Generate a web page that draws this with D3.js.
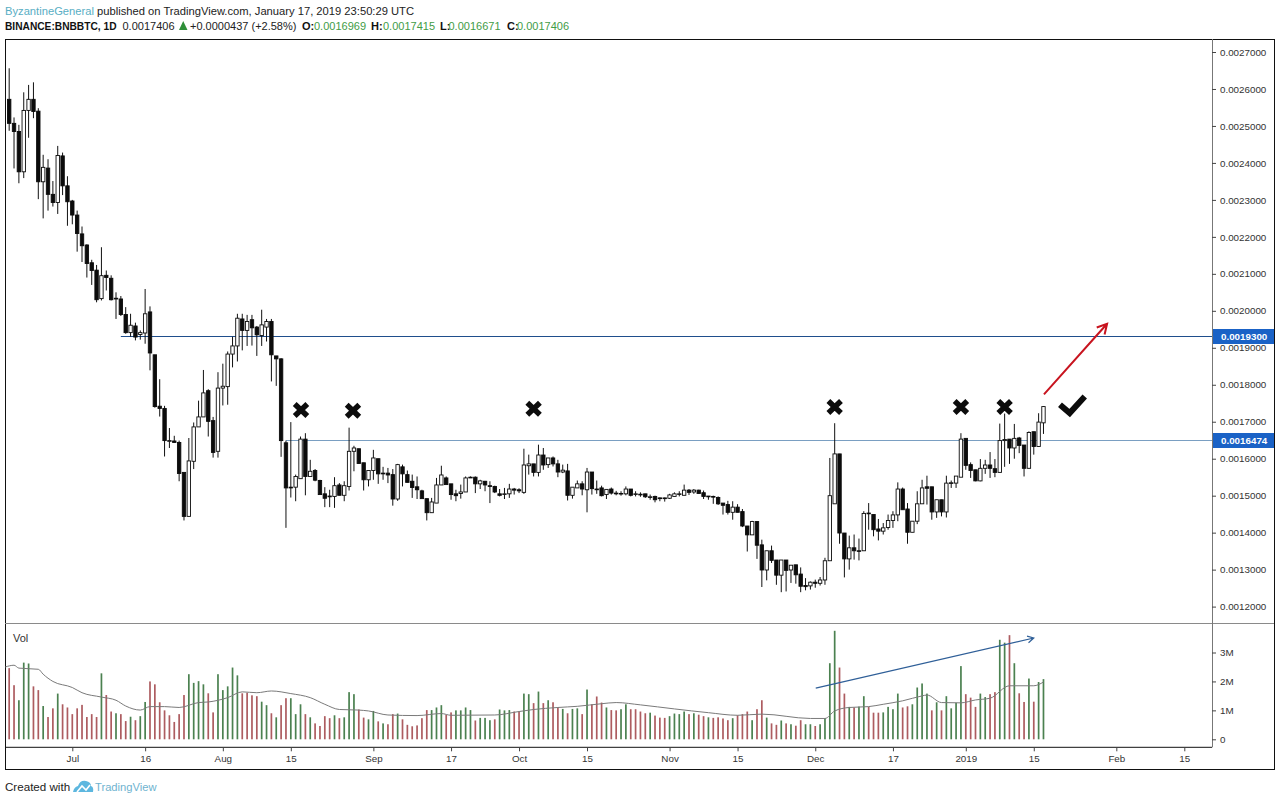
<!DOCTYPE html>
<html>
<head>
<meta charset="utf-8">
<title>BNBBTC</title>
<script src="https://cdn.jsdelivr.net/npm/d3@7"></script>
<style>
  html, body { margin: 0; padding: 0; background: #fff; }
  svg { display: block; }
  text { font-family: "Liberation Sans", Arial, sans-serif; }
</style>
</head>
<body>
<svg id="chart" width="1280" height="802"></svg>
<script>
// prices are in millionths of a BTC, one value per day from 2018-06-18
const highs = [
  2656,2523,2503,2591,2611,2618,2548,2422,2410,2351, 2446,2428,2364,2300,2271,2228,2180,2138,2124,2172,
  2109,2096,2050,2040,2010,1992,1968,1947,2059,2012, 1881,1815,1743,1683,1662,1649,1563,1656,1698,1757,
  1840,1788,1713,1834,1857,1890,1930,1992,1992,1989, 1989,1959,2003,1978,1978,1878,1872,1649,1699,1557,
  1660,1669,1597,1572,1543,1523,1516,1550,1534,1539, 1684,1635,1627,1589,1568,1624,1600,1578,1575,1572,
  1586,1584,1568,1557,1552,1516,1492,1494,1548,1581, 1552,1532,1516,1530,1552,1552,1552,1543,1540,1539,
  1527,1518,1521,1532,1521,1520,1627,1611,1586,1638, 1629,1602,1606,1597,1584,1586,1523,1541,1539,1575,
  1564,1541,1527,1517,1522,1513,1512,1525,1518,1512, 1509,1505,1503,1500,1495,1495,1505,1509,1512,1530,
  1518,1518,1516,1514,1499,1500,1498,1480,1486,1485, 1477,1464,1418,1432,1431,1381,1351,1365,1326,1326,
  1326,1312,1313,1306,1277,1268,1273,1280,1332,1602, 1696,1613,1399,1392,1395,1384,1458,1480,1449,1437,
  1426,1449,1458,1536,1522,1480,1431,1512,1543,1554, 1524,1489,1489,1554,1541,1553,1669,1655,1590,1570,
  1599,1597,1618,1599,1695,1722,1653,1694,1659,1637, 1674,1673,1723,1742
];
const lows = [
  2487,2385,2345,2359,2468,2521,2302,2250,2271,2282, 2262,2313,2230,2234,2160,2132,2090,2070,2023,2028,
  2055,2028,1978,1986,1938,1930,1920,1922,1911,1839, 1738,1714,1606,1629,1644,1539,1433,1444,1572,1686,
  1713,1660,1603,1603,1744,1746,1847,1863,1893,1905, 1906,1878,1905,1917,1809,1797,1605,1413,1495,1485,
  1546,1501,1552,1539,1503,1469,1469,1467,1501,1485, 1514,1566,1587,1514,1525,1543,1532,1543,1534,1473,
  1486,1525,1536,1494,1491,1492,1433,1454,1480,1529, 1530,1489,1485,1492,1510,1548,1507,1518,1512,1480,
  1507,1498,1491,1494,1503,1507,1505,1557,1552,1552, 1570,1575,1579,1550,1561,1487,1492,1521,1501,1455,
  1503,1505,1498,1491,1503,1501,1500,1501,1498,1498, 1497,1494,1489,1482,1485,1484,1491,1498,1498,1501,
  1502,1505,1506,1491,1489,1478,1475,1449,1449,1435, 1455,1415,1349,1394,1329,1253,1271,1318,1259,1239,
  1241,1264,1262,1239,1244,1246,1251,1257,1259,1324, 1478,1370,1279,1300,1327,1325,1351,1408,1390,1379,
  1395,1408,1413,1431,1462,1370,1401,1423,1478,1476, 1435,1440,1444,1441,1521,1521,1550,1570,1548,1539,
  1539,1559,1548,1550,1563,1578,1586,1600,1615,1552, 1574,1611,1632,1667
];
const opens = [
  2572,2507,2485,2376,2542,2572,2540,2349,2386,2315, 2293,2419,2338,2297,2259,2208,2178,2130,2110,2033,
  2096,2088,2034,2032,1990,1941,1959,1936,1940,1997, 1881,1742,1736,1647,1648,1644,1563,1444,1593,1686,
  1713,1784,1703,1620,1791,1795,1883,1905,1978,1947, 1976,1956,1933,1956,1971,1878,1870,1643,1521,1523,
  1546,1653,1552,1568,1541,1505,1497,1498,1529,1501, 1525,1620,1627,1589,1543,1568,1600,1561,1561,1557,
  1491,1578,1557,1539,1524,1513,1492,1454,1480,1529, 1548,1532,1505,1506,1510,1550,1550,1532,1539,1527,
  1525,1505,1504,1505,1518,1516,1509,1581,1586,1563, 1610,1584,1602,1586,1564,1567,1501,1521,1532,1516,
  1564,1516,1521,1503,1518,1507,1505,1505,1518,1504, 1504,1505,1495,1498,1494,1492,1493,1498,1504,1501,
  1515,1510,1515,1508,1499,1498,1495,1480,1476,1455, 1469,1457,1418,1394,1430,1367,1299,1351,1326,1285,
  1326,1299,1313,1288,1257,1256,1266,1263,1272,1324, 1478,1613,1399,1329,1359,1351,1351,1453,1449,1410,
  1404,1414,1433,1448,1518,1464,1401,1431,1478,1524, 1524,1456,1489,1456,1533,1534,1550,1655,1584,1570,
  1540,1574,1583,1573,1563,1649,1653,1629,1656,1637, 1574,1673,1633,1697
];
const closes = [
  2507,2485,2376,2542,2572,2539,2349,2388,2315,2293, 2420,2338,2295,2259,2209,2176,2128,2109,2030,2095,
  2090,2030,2032,1990,1941,1961,1929,1941,1992,1886, 1741,1736,1649,1649,1644,1560,1444,1594,1686,1713,
  1778,1701,1617,1791,1796,1883,1905,1980,1947,1971, 1954,1935,1962,1971,1881,1870,1649,1521,1523,1552,
  1653,1552,1566,1542,1503,1493,1499,1527,1501,1527, 1620,1629,1587,1543,1568,1602,1559,1559,1556,1491,
  1584,1559,1536,1522,1516,1492,1454,1483,1529,1556, 1530,1503,1500,1510,1548,1548,1532,1540,1529,1525,
  1510,1501,1505,1518,1515,1513,1583,1586,1563,1610, 1583,1602,1586,1564,1569,1501,1523,1532,1518,1564,
  1519,1518,1500,1517,1507,1505,1506,1518,1501,1505, 1502,1497,1497,1489,1492,1494,1502,1505,1505,1515,
  1509,1515,1506,1498,1497,1496,1478,1474,1455,1469, 1455,1418,1394,1430,1366,1299,1351,1325,1285,1326,
  1298,1312,1286,1255,1254,1266,1263,1272,1324,1500, 1613,1399,1329,1359,1351,1350,1452,1451,1408,1404,
  1413,1433,1448,1518,1462,1401,1431,1478,1521,1520, 1456,1489,1456,1534,1535,1553,1653,1582,1568,1540,
  1574,1583,1574,1563,1649,1652,1629,1655,1636,1574, 1671,1633,1699,1741
];

// volume in millions
const volumes = [
  2.46,1.87,1.35,2.65,2.62,1.83,1.70,1.15,0.77,1.07, 1.58,1.21,1.10,0.87,1.07,1.19,0.77,0.87,0.77,2.28,
  1.53,0.96,0.90,0.87,0.63,0.78,0.66,0.80,1.29,2.00, 1.90,1.28,1.00,0.83,0.60,0.87,1.53,2.25,1.95,2.01,
  1.90,1.59,0.93,2.25,1.70,1.83,2.48,2.21,1.59,1.61, 1.52,1.49,1.30,1.18,0.90,0.76,1.18,1.42,1.42,0.87,
  1.21,0.87,0.76,0.55,0.46,0.80,0.73,0.83,0.73,0.76, 1.63,1.56,1.03,0.75,0.69,0.98,0.62,0.55,0.52,0.87,
  0.89,0.69,0.50,0.45,0.48,0.73,1.01,1.01,1.10,1.18, 0.84,0.93,1.00,1.00,1.10,1.01,0.65,0.74,0.74,0.66,
  0.69,1.03,1.00,1.01,0.96,0.96,1.58,1.56,1.25,1.65, 1.25,1.35,1.28,1.10,1.05,0.90,1.05,1.07,0.87,1.72,
  1.21,1.48,1.27,1.10,1.01,1.00,1.04,1.21,1.04,1.04, 0.96,0.90,0.92,0.82,0.75,0.74,0.80,0.89,0.87,0.96,
  0.87,0.90,0.85,0.80,0.76,0.74,0.76,0.72,0.66,0.73, 0.83,0.87,0.96,0.66,1.04,1.35,0.75,0.55,0.50,0.65,
  0.55,0.52,0.47,0.66,0.52,0.52,0.46,0.52,0.73,2.63, 3.75,2.48,1.58,1.12,1.10,1.13,1.49,1.12,0.92,0.92,
  0.93,1.12,1.04,1.58,1.10,1.14,1.21,1.79,1.93,1.58, 1.00,1.28,1.00,1.49,1.07,1.26,2.53,1.56,1.44,1.12,
  1.58,1.46,1.56,1.63,3.44,3.34,3.60,2.63,1.59,1.29, 2.10,1.30,1.98,2.08
];
const volumeDirs = (
  "RRGGGRRGRR" + "GRRRRRRRRG" + "RRGRRGRGGR" + "RRRRRRRGGG" + "GRRGGGGGRR" +
  "RRGGRGRRGG" + "GRGRRRRGRG" + "GGRRGGRGRR" + "GRRRRRRGGG" + "RRGGGGRGGG" +
  "RGGGRRGGRG" + "RGRRGRGGRG" + "RRRGRRGGRR" + "RRGRRRGGGG" + "RGRRGRRRRG" +
  "RRRGRRGRRG" + "RGRRGGRGGG" + "GRRGRGGRRR" + "GGGGRRGGGG" + "RGRGGGGRRR" +
  "GGRRGGRGRR" + "GRGG"
).split("");

// volume average at its bends
const maDays = [-0.8,1,2,6,7,9,13,15,19,22,24,27,29,32,35,39,41,45,48,51,54,58,62,65,68,72,74,78,84,89,91,100,105,108,113,117,122,125,130,137,144,150,155,165,168,170,173,177,180,184,188,189,192,196,199,202,206,211,213];
const maValues = [2.50,2.56,2.46,2.42,2.25,2.00,1.79,1.61,1.46,1.35,1.15,1.01,1.13,1.13,1.10,1.27,1.29,1.44,1.64,1.61,1.67,1.58,1.44,1.21,1.03,1.01,0.98,0.84,0.82,0.89,0.83,0.84,0.96,1.03,1.10,1.14,1.23,1.27,1.19,1.05,0.92,0.83,0.87,0.72,0.72,0.98,1.10,1.13,1.21,1.33,1.50,1.53,1.27,1.26,1.36,1.42,1.85,1.85,1.98];

const priceTicks = [1200,1300,1400,1500,1600,1700,1800,1900,2000,2100,2200,2300,2400,2500,2600,2700];
const volumeTicks = [0,1,2,3];
const dateTicks = ["2018-07-01","2018-07-16","2018-08-01","2018-08-15","2018-09-01","2018-09-17","2018-10-01","2018-10-15","2018-11-01","2018-11-15","2018-12-01","2018-12-17","2019-01-01","2019-01-15","2019-02-01","2019-02-15"];
const dateLabels = ["Jul","16","Aug","15","Sep","17","Oct","15","Nov","15","Dec","17","2019","15","Feb","15"];

// horizontal levels: price and the day they start on
const levelPrices = [1930, 1647.4];
const levelStarts = [23, 57];
const levelColors = ["#1f4e8c", "#7a9fc2"];

// the X marks, as day and price
const crossDays = [60.1, 70.8, 108, 170, 196, 205];
const crossPrices = [1732, 1730, 1735, 1740, 1740, 1740];

const firstDay = Date.UTC(2018, 5, 18);
const dayMs = 86400000;
const dateOf = i => new Date(firstDay + i * dayMs);

const frameLeft = 5, frameTop = 39, frameRight = 1274, frameBottom = 769;
const axisX = 1212, paneY = 623, timeY = 747.3;

const x = d3.scaleUtc()
    .domain([new Date("2018-07-01"), new Date("2019-02-15")])
    .range([72.3, 1184.3]);
const y = d3.scaleLinear().domain([1200, 2700]).range([606.6, 52]);
const yVol = d3.scaleLinear().domain([0, 3]).range([739.3, 652.5]);
const dayX = i => x(dateOf(i));
const levelY = d => Math.floor(y(d) - 0.4) + 0.5;

const svg = d3.select("#chart");

/* --------- FRAME --------- */
svg.append("rect")
    .attr("x", frameLeft + 0.5).attr("y", frameTop + 0.5)
    .attr("width", frameRight - frameLeft).attr("height", frameBottom - frameTop)
    .attr("fill", "#fff").attr("stroke", "#111");
svg.append("line").attr("x1", frameLeft).attr("x2", frameRight).attr("y1", paneY + 0.5).attr("y2", paneY + 0.5).attr("stroke", "#8a8a8a");
svg.append("line").attr("x1", frameLeft).attr("x2", axisX).attr("y1", timeY).attr("y2", timeY).attr("stroke", "#111");
svg.append("line").attr("x1", axisX + 0.5).attr("x2", axisX + 0.5).attr("y1", frameTop).attr("y2", timeY).attr("stroke", "#777");

/* --------- LEVELS --------- */
svg.append("g").selectAll("line")
    .data(levelPrices)
    .join("line")
    .attr("x1", (d, i) => dayX(levelStarts[i]))
    .attr("x2", axisX)
    .attr("y1", levelY)
    .attr("y2", levelY)
    .attr("stroke", (d, i) => levelColors[i])
    .attr("stroke-width", 1);

/* --------- CANDLES --------- */
const days = d3.range(highs.length);
const candles = svg.append("g");

candles.selectAll("line")
    .data(days)
    .join("line")
    .attr("x1", i => dayX(i)).attr("x2", i => dayX(i))
    .attr("y1", i => y(highs[i]))
    .attr("y2", i => y(lows[i]))
    .attr("stroke", "#111")
    .attr("stroke-width", 1);

candles.selectAll("rect")
    .data(days)
    .join("rect")
    .attr("x", i => dayX(i) - 1.7)
    .attr("width", 3.4)
    .attr("y", i => y(Math.max(opens[i], closes[i])))
    .attr("height", i => Math.max(0.6, Math.abs(y(opens[i]) - y(closes[i]))))
    .attr("fill", i => closes[i] >= opens[i] ? "#fff" : "#0c0c0c")
    .attr("stroke", "#0c0c0c")
    .attr("stroke-width", 0.9);

/* --------- VOLUME --------- */
svg.append("text").attr("x", 13).attr("y", 642).attr("font-size", 11).attr("fill", "#333").text("Vol");

svg.append("g").selectAll("rect")
    .data(volumes)
    .join("rect")
    .attr("x", (d, i) => dayX(i) - 0.85)
    .attr("width", 1.7)
    .attr("y", d => yVol(d))
    .attr("height", d => yVol(0) - yVol(d))
    .attr("fill", (d, i) => volumeDirs[i] === "G" ? "#4b8150" : "#ad5c60");

svg.append("path")
    .attr("d", d3.line().x(d => dayX(d)).y((d, i) => yVol(maValues[i])).curve(d3.curveMonotoneX)(maDays))
    .attr("fill", "none")
    .attr("stroke", "#7a7a7a")
    .attr("stroke-width", 1);

/* --------- AXES --------- */
function styleAxis(g) {
    g.select(".domain").remove();
    g.selectAll("line").attr("stroke", "#444");
    g.selectAll("text").attr("fill", "#333").attr("font-size", 9.8)
        .style("font-family", '"Liberation Sans", Arial, sans-serif');
}

svg.append("g")
    .attr("transform", `translate(${axisX},0)`)
    .call(d3.axisRight(y).tickValues(priceTicks).tickSize(4).tickPadding(4)
        .tickFormat(d => (d / 1e6).toFixed(7)))
    .call(styleAxis);

svg.append("g")
    .attr("transform", `translate(${axisX},0)`)
    .call(d3.axisRight(yVol).tickValues(volumeTicks).tickSize(4).tickPadding(4)
        .tickFormat(d => d === 0 ? "0" : d + "M"))
    .call(styleAxis);

svg.append("g")
    .attr("transform", `translate(0,${timeY})`)
    .call(d3.axisBottom(x).tickValues(dateTicks.map(d => new Date(d))).tickSize(4).tickPadding(4)
        .tickFormat((d, i) => dateLabels[i]))
    .call(styleAxis);

/* --------- LEVEL FLAGS --------- */
const flags = svg.append("g").selectAll("g")
    .data(levelPrices)
    .join("g")
    .attr("transform", d => `translate(${axisX + 1},${levelY(d)})`);
flags.append("rect")
    .attr("y", -7.5).attr("width", frameRight - axisX - 1).attr("height", 15)
    .attr("fill", "#1a62c6");
flags.append("text")
    .attr("x", 8).attr("dy", "0.35em")
    .attr("font-size", 9.8).attr("font-weight", "bold").attr("fill", "#fff")
    .text(d => (d / 1e6).toFixed(7));

/* --------- DRAWINGS --------- */
svg.append("g").selectAll("path")
    .data(crossDays)
    .join("path")
    .attr("transform", (d, i) => `translate(${dayX(d)},${y(crossPrices[i])})`)
    .attr("d", "M-6.3,-6L6.3,6M6.3,-6L-6.3,6")
    .attr("fill", "none")
    .attr("stroke", "#0c0c0c")
    .attr("stroke-width", 5.5);

const checkDays = [216.4, 218.4, 221.5];
const checkPrices = [1746, 1723.5, 1768];
svg.append("path")
    .attr("d", d3.line().x(d => dayX(d)).y((d, i) => y(checkPrices[i]))(checkDays))
    .attr("fill", "none")
    .attr("stroke", "#0c0c0c")
    .attr("stroke-width", 6);

function arrow(x0, y0, x1, y1, color, width, head) {
    const a = Math.atan2(y1 - y0, x1 - x0);
    const wing = s => [x1 - head * Math.cos(a + s * 0.5), y1 - head * Math.sin(a + s * 0.5)];
    svg.append("path")
        .attr("d", d3.line()([[x0, y0], [x1, y1]]) + d3.line()([wing(1), [x1, y1], wing(-1)]))
        .attr("fill", "none")
        .attr("stroke", color)
        .attr("stroke-width", width);
}
arrow(dayX(213.1), y(1774), dayX(226.1), y(1965), "#c8141f", 2, 11);
arrow(dayX(166.1), yVol(1.77), dayX(211), yVol(3.5), "#2f5f98", 1.2, 7);

/* --------- HEADER --------- */
const line1 = svg.append("text").attr("x", 5).attr("y", 15).attr("font-size", 11.2);
line1.append("tspan").attr("fill", "#58aec4").text("ByzantineGeneral");
line1.append("tspan").attr("fill", "#222").text(" published on TradingView.com, January 17, 2019 23:50:29 UTC");

const green = "#3f9c46";
const header2 = [
    [5, "BINANCE:BNBBTC, 1D", "#111", "bold", 10.2],
    [122.5, "0.0017406", "#222", "normal", 11],
    [190, "+0.0000437 (+2.58%)", "#222", "normal", 11],
    [302, "O:", "#111", "bold", 11],
    [314, "0.0016969", green, "normal", 11],
    [371, "H:", "#111", "bold", 11],
    [383, "0.0017415", green, "normal", 11],
    [440, "L:", "#111", "bold", 11],
    [448.5, "0.0016671", green, "normal", 11],
    [507, "C:", "#111", "bold", 11],
    [517, "0.0017406", green, "normal", 11]
];
svg.append("g").selectAll("text")
    .data(header2)
    .join("text")
    .attr("x", d => d[0]).attr("y", 30)
    .attr("font-size", d => d[4])
    .attr("fill", d => d[2])
    .attr("font-weight", d => d[3])
    .text(d => d[1]);
svg.append("path").attr("d", "M179,30L183.2,21L187.5,30Z").attr("fill", "#2e8f38");

/* --------- FOOTER --------- */
svg.append("text").attr("x", 5).attr("y", 790.5).attr("font-size", 11.6).attr("fill", "#222").text("Created with");
svg.append("path")
    .attr("d", "M73,792Q74,787 78,786Q80,780 86,781Q91,782 91,786Q94,787 93,792Z")
    .attr("fill", "#5db7df");
svg.append("path")
    .attr("d", "M77,792L82,786L86,790L90,785")
    .attr("fill", "none")
    .attr("stroke", "#fff")
    .attr("stroke-width", 1.6);
svg.append("text").attr("x", 95).attr("y", 790.5).attr("font-size", 11.2).attr("fill", "#6fb3cf").text("TradingView");
</script>
</body>
</html>
